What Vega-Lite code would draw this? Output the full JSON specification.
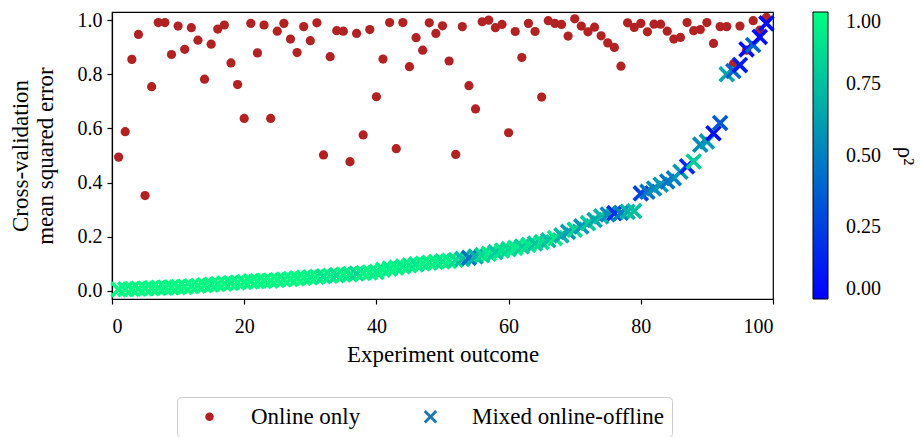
{
  "$schema": "https://vega.github.io/schema/vega-lite/v6.json",
  "width": 661,
  "height": 287,
  "autosize": {"type": "none"},
  "padding": {"left": 112, "top": 12, "right": 147, "bottom": 138},
  "config": {
    "font": "Liberation Serif",
    "view": {"stroke": "black", "strokeWidth": 1.2},
    "axis": {"grid": false, "domainColor": "black", "domainWidth": 1.2, "tickColor": "black", "tickWidth": 1.2, "tickSize": 5, "labelColor": "black", "titleColor": "black", "labelFont": "Liberation Serif", "titleFont": "Liberation Serif", "labelFontSize": 20, "titleFontSize": 23, "titleFontWeight": "normal"},
    "legend": {"labelFont": "Liberation Serif", "titleFont": "Liberation Serif", "labelColor": "black", "titleColor": "black", "titleFontWeight": "normal"}
  },
  "datasets": {
    "online": [
      {"x":1,"mse":0.494,"series":"Online only"},{"x":2,"mse":0.588,"series":"Online only"},{"x":3,"mse":0.855,"series":"Online only"},{"x":4,"mse":0.947,"series":"Online only"},{"x":5,"mse":0.352,"series":"Online only"},
      {"x":6,"mse":0.754,"series":"Online only"},{"x":7,"mse":0.991,"series":"Online only"},{"x":8,"mse":0.991,"series":"Online only"},{"x":9,"mse":0.873,"series":"Online only"},{"x":10,"mse":0.978,"series":"Online only"},
      {"x":11,"mse":0.892,"series":"Online only"},{"x":12,"mse":0.972,"series":"Online only"},{"x":13,"mse":0.926,"series":"Online only"},{"x":14,"mse":0.782,"series":"Online only"},{"x":15,"mse":0.911,"series":"Online only"},
      {"x":16,"mse":0.967,"series":"Online only"},{"x":17,"mse":0.982,"series":"Online only"},{"x":18,"mse":0.842,"series":"Online only"},{"x":19,"mse":0.762,"series":"Online only"},{"x":20,"mse":0.637,"series":"Online only"},
      {"x":21,"mse":0.988,"series":"Online only"},{"x":22,"mse":0.879,"series":"Online only"},{"x":23,"mse":0.982,"series":"Online only"},{"x":24,"mse":0.637,"series":"Online only"},{"x":25,"mse":0.959,"series":"Online only"},
      {"x":26,"mse":0.988,"series":"Online only"},{"x":27,"mse":0.930,"series":"Online only"},{"x":28,"mse":0.880,"series":"Online only"},{"x":29,"mse":0.976,"series":"Online only"},{"x":30,"mse":0.924,"series":"Online only"},
      {"x":31,"mse":0.990,"series":"Online only"},{"x":32,"mse":0.502,"series":"Online only"},{"x":33,"mse":0.865,"series":"Online only"},{"x":34,"mse":0.961,"series":"Online only"},{"x":35,"mse":0.959,"series":"Online only"},
      {"x":36,"mse":0.477,"series":"Online only"},{"x":37,"mse":0.951,"series":"Online only"},{"x":38,"mse":0.576,"series":"Online only"},{"x":39,"mse":0.965,"series":"Online only"},{"x":40,"mse":0.717,"series":"Online only"},
      {"x":41,"mse":0.856,"series":"Online only"},{"x":42,"mse":0.991,"series":"Online only"},{"x":43,"mse":0.525,"series":"Online only"},{"x":44,"mse":0.991,"series":"Online only"},{"x":45,"mse":0.828,"series":"Online only"},
      {"x":46,"mse":0.935,"series":"Online only"},{"x":47,"mse":0.889,"series":"Online only"},{"x":48,"mse":0.990,"series":"Online only"},{"x":49,"mse":0.951,"series":"Online only"},{"x":50,"mse":0.979,"series":"Online only"},
      {"x":51,"mse":0.849,"series":"Online only"},{"x":52,"mse":0.504,"series":"Online only"},{"x":53,"mse":0.976,"series":"Online only"},{"x":54,"mse":0.758,"series":"Online only"},{"x":55,"mse":0.672,"series":"Online only"},
      {"x":56,"mse":0.994,"series":"Online only"},{"x":57,"mse":1.000,"series":"Online only"},{"x":58,"mse":0.972,"series":"Online only"},{"x":59,"mse":0.984,"series":"Online only"},{"x":60,"mse":0.584,"series":"Online only"},
      {"x":61,"mse":0.958,"series":"Online only"},{"x":62,"mse":0.862,"series":"Online only"},{"x":63,"mse":0.988,"series":"Online only"},{"x":64,"mse":0.958,"series":"Online only"},{"x":65,"mse":0.716,"series":"Online only"},
      {"x":66,"mse":0.998,"series":"Online only"},{"x":67,"mse":0.988,"series":"Online only"},{"x":68,"mse":0.984,"series":"Online only"},{"x":69,"mse":0.941,"series":"Online only"},{"x":70,"mse":1.005,"series":"Online only"},
      {"x":71,"mse":0.978,"series":"Online only"},{"x":72,"mse":0.957,"series":"Online only"},{"x":73,"mse":0.974,"series":"Online only"},{"x":74,"mse":0.942,"series":"Online only"},{"x":75,"mse":0.916,"series":"Online only"},
      {"x":76,"mse":0.899,"series":"Online only"},{"x":77,"mse":0.830,"series":"Online only"},{"x":78,"mse":0.990,"series":"Online only"},{"x":79,"mse":0.973,"series":"Online only"},{"x":80,"mse":0.988,"series":"Online only"},
      {"x":81,"mse":0.957,"series":"Online only"},{"x":82,"mse":0.985,"series":"Online only"},{"x":83,"mse":0.985,"series":"Online only"},{"x":84,"mse":0.959,"series":"Online only"},{"x":85,"mse":0.930,"series":"Online only"},
      {"x":86,"mse":0.936,"series":"Online only"},{"x":87,"mse":0.991,"series":"Online only"},{"x":88,"mse":0.961,"series":"Online only"},{"x":89,"mse":0.965,"series":"Online only"},{"x":90,"mse":0.991,"series":"Online only"},
      {"x":91,"mse":0.914,"series":"Online only"},{"x":92,"mse":0.976,"series":"Online only"},{"x":93,"mse":0.976,"series":"Online only"},{"x":94,"mse":0.838,"series":"Online only"},{"x":95,"mse":0.978,"series":"Online only"},
      {"x":96,"mse":0.889,"series":"Online only"},{"x":97,"mse":0.998,"series":"Online only"},{"x":98,"mse":0.963,"series":"Online only"},{"x":99,"mse":1.010,"series":"Online only"}
    ],
    "mixed": [
      {"x":1,"mse":0.005,"rho2":1.0,"series":"Mixed online-offline"},{"x":2,"mse":0.006,"rho2":0.98,"series":"Mixed online-offline"},{"x":3,"mse":0.007,"rho2":0.99,"series":"Mixed online-offline"},{"x":4,"mse":0.008,"rho2":0.97,"series":"Mixed online-offline"},{"x":5,"mse":0.009,"rho2":0.99,"series":"Mixed online-offline"},
      {"x":6,"mse":0.010,"rho2":0.98,"series":"Mixed online-offline"},{"x":7,"mse":0.011,"rho2":0.99,"series":"Mixed online-offline"},{"x":8,"mse":0.012,"rho2":0.97,"series":"Mixed online-offline"},{"x":9,"mse":0.013,"rho2":0.99,"series":"Mixed online-offline"},{"x":10,"mse":0.014,"rho2":0.98,"series":"Mixed online-offline"},
      {"x":11,"mse":0.015,"rho2":0.99,"series":"Mixed online-offline"},{"x":12,"mse":0.017,"rho2":0.97,"series":"Mixed online-offline"},{"x":13,"mse":0.019,"rho2":0.98,"series":"Mixed online-offline"},{"x":14,"mse":0.021,"rho2":0.99,"series":"Mixed online-offline"},{"x":15,"mse":0.023,"rho2":0.97,"series":"Mixed online-offline"},
      {"x":16,"mse":0.025,"rho2":0.98,"series":"Mixed online-offline"},{"x":17,"mse":0.027,"rho2":0.99,"series":"Mixed online-offline"},{"x":18,"mse":0.029,"rho2":0.96,"series":"Mixed online-offline"},{"x":19,"mse":0.031,"rho2":0.98,"series":"Mixed online-offline"},{"x":20,"mse":0.033,"rho2":0.97,"series":"Mixed online-offline"},
      {"x":21,"mse":0.035,"rho2":0.99,"series":"Mixed online-offline"},{"x":22,"mse":0.036,"rho2":0.98,"series":"Mixed online-offline"},{"x":23,"mse":0.037,"rho2":0.97,"series":"Mixed online-offline"},{"x":24,"mse":0.038,"rho2":0.99,"series":"Mixed online-offline"},{"x":25,"mse":0.040,"rho2":0.98,"series":"Mixed online-offline"},
      {"x":26,"mse":0.042,"rho2":0.96,"series":"Mixed online-offline"},{"x":27,"mse":0.044,"rho2":0.98,"series":"Mixed online-offline"},{"x":28,"mse":0.046,"rho2":0.97,"series":"Mixed online-offline"},{"x":29,"mse":0.048,"rho2":0.99,"series":"Mixed online-offline"},{"x":30,"mse":0.050,"rho2":0.95,"series":"Mixed online-offline"},
      {"x":31,"mse":0.052,"rho2":0.97,"series":"Mixed online-offline"},{"x":32,"mse":0.054,"rho2":0.90,"series":"Mixed online-offline"},{"x":33,"mse":0.056,"rho2":0.94,"series":"Mixed online-offline"},{"x":34,"mse":0.058,"rho2":0.88,"series":"Mixed online-offline"},{"x":35,"mse":0.060,"rho2":0.96,"series":"Mixed online-offline"},
      {"x":36,"mse":0.062,"rho2":0.92,"series":"Mixed online-offline"},{"x":37,"mse":0.064,"rho2":0.86,"series":"Mixed online-offline"},{"x":38,"mse":0.066,"rho2":0.95,"series":"Mixed online-offline"},{"x":39,"mse":0.068,"rho2":0.97,"series":"Mixed online-offline"},{"x":40,"mse":0.070,"rho2":0.93,"series":"Mixed online-offline"},
      {"x":41,"mse":0.078,"rho2":0.96,"series":"Mixed online-offline"},{"x":42,"mse":0.082,"rho2":0.94,"series":"Mixed online-offline"},{"x":43,"mse":0.086,"rho2":0.97,"series":"Mixed online-offline"},{"x":44,"mse":0.090,"rho2":0.92,"series":"Mixed online-offline"},{"x":45,"mse":0.094,"rho2":0.95,"series":"Mixed online-offline"},
      {"x":46,"mse":0.098,"rho2":0.90,"series":"Mixed online-offline"},{"x":47,"mse":0.101,"rho2":0.96,"series":"Mixed online-offline"},{"x":48,"mse":0.104,"rho2":0.93,"series":"Mixed online-offline"},{"x":49,"mse":0.107,"rho2":0.95,"series":"Mixed online-offline"},{"x":50,"mse":0.109,"rho2":0.91,"series":"Mixed online-offline"},
      {"x":51,"mse":0.111,"rho2":0.94,"series":"Mixed online-offline"},{"x":52,"mse":0.114,"rho2":0.88,"series":"Mixed online-offline"},{"x":53,"mse":0.118,"rho2":0.75,"series":"Mixed online-offline"},{"x":54,"mse":0.122,"rho2":0.45,"series":"Mixed online-offline"},{"x":55,"mse":0.127,"rho2":0.70,"series":"Mixed online-offline"},
      {"x":56,"mse":0.132,"rho2":0.85,"series":"Mixed online-offline"},{"x":57,"mse":0.137,"rho2":0.92,"series":"Mixed online-offline"},{"x":58,"mse":0.143,"rho2":0.80,"series":"Mixed online-offline"},{"x":59,"mse":0.149,"rho2":0.90,"series":"Mixed online-offline"},{"x":60,"mse":0.154,"rho2":0.86,"series":"Mixed online-offline"},
      {"x":61,"mse":0.159,"rho2":0.93,"series":"Mixed online-offline"},{"x":62,"mse":0.164,"rho2":0.82,"series":"Mixed online-offline"},{"x":63,"mse":0.170,"rho2":0.90,"series":"Mixed online-offline"},{"x":64,"mse":0.175,"rho2":0.78,"series":"Mixed online-offline"},{"x":65,"mse":0.180,"rho2":0.88,"series":"Mixed online-offline"},
      {"x":66,"mse":0.187,"rho2":0.75,"series":"Mixed online-offline"},{"x":67,"mse":0.195,"rho2":0.92,"series":"Mixed online-offline"},{"x":68,"mse":0.205,"rho2":0.70,"series":"Mixed online-offline"},{"x":69,"mse":0.218,"rho2":0.62,"series":"Mixed online-offline"},{"x":70,"mse":0.226,"rho2":0.85,"series":"Mixed online-offline"},
      {"x":71,"mse":0.238,"rho2":0.58,"series":"Mixed online-offline"},{"x":72,"mse":0.250,"rho2":0.80,"series":"Mixed online-offline"},{"x":73,"mse":0.262,"rho2":0.66,"series":"Mixed online-offline"},{"x":74,"mse":0.275,"rho2":0.72,"series":"Mixed online-offline"},{"x":75,"mse":0.282,"rho2":0.55,"series":"Mixed online-offline"},
      {"x":76,"mse":0.287,"rho2":0.20,"series":"Mixed online-offline"},{"x":77,"mse":0.288,"rho2":0.50,"series":"Mixed online-offline"},{"x":78,"mse":0.292,"rho2":0.70,"series":"Mixed online-offline"},{"x":79,"mse":0.295,"rho2":0.75,"series":"Mixed online-offline"},{"x":80,"mse":0.360,"rho2":0.25,"series":"Mixed online-offline"},
      {"x":81,"mse":0.366,"rho2":0.45,"series":"Mixed online-offline"},{"x":82,"mse":0.378,"rho2":0.55,"series":"Mixed online-offline"},{"x":83,"mse":0.392,"rho2":0.60,"series":"Mixed online-offline"},{"x":84,"mse":0.404,"rho2":0.45,"series":"Mixed online-offline"},{"x":85,"mse":0.416,"rho2":0.50,"series":"Mixed online-offline"},
      {"x":86,"mse":0.440,"rho2":0.60,"series":"Mixed online-offline"},{"x":87,"mse":0.460,"rho2":0.15,"series":"Mixed online-offline"},{"x":88,"mse":0.478,"rho2":0.80,"series":"Mixed online-offline"},{"x":89,"mse":0.540,"rho2":0.55,"series":"Mixed online-offline"},{"x":90,"mse":0.552,"rho2":0.60,"series":"Mixed online-offline"},
      {"x":91,"mse":0.582,"rho2":0.05,"series":"Mixed online-offline"},{"x":92,"mse":0.620,"rho2":0.35,"series":"Mixed online-offline"},{"x":93,"mse":0.800,"rho2":0.65,"series":"Mixed online-offline"},{"x":94,"mse":0.812,"rho2":0.40,"series":"Mixed online-offline"},{"x":95,"mse":0.834,"rho2":0.10,"series":"Mixed online-offline"},
      {"x":96,"mse":0.892,"rho2":0.05,"series":"Mixed online-offline"},{"x":97,"mse":0.908,"rho2":0.40,"series":"Mixed online-offline"},{"x":98,"mse":0.938,"rho2":0.05,"series":"Mixed online-offline"},{"x":99,"mse":0.988,"rho2":0.05,"series":"Mixed online-offline"}
    ]
  },
  "layer": [
    {
      "data": {"name": "online"},
      "mark": {"type": "point", "filled": true, "size": 85, "opacity": 1},
      "encoding": {
        "x": {"field": "x", "type": "quantitative", "scale": {"domain": [0, 100], "nice": false, "zero": false}, "axis": {"values": [0, 20, 40, 60, 80, 100], "title": "Experiment outcome", "labelPadding": 12, "titlePadding": 7}},
        "y": {"field": "mse", "type": "quantitative", "scale": {"domain": [-0.03, 1.03], "nice": false, "zero": false}, "axis": {"values": [0, 0.2, 0.4, 0.6, 0.8, 1.0], "format": ".1f", "title": ["Cross-validation", "mean squared error"], "titlePadding": 20, "labelPadding": 5, "titleLineHeight": 25}},
        "fill": {"field": "series", "type": "nominal", "scale": {"domain": ["Online only", "Mixed online-offline"], "range": ["#b22222", "#1f77b4"]},
          "legend": {"orient": "none", "legendX": 65, "legendY": 385, "direction": "horizontal", "columns": 2, "title": null, "labelFontSize": 23, "labelLimit": 400, "symbolSize": 72, "symbolOpacity": 1, "symbolStrokeWidth": 0, "padding": 8, "strokeColor": "#cccccc", "cornerRadius": 4, "fillColor": "white", "symbolOffset": 13, "labelOffset": 30, "columnPadding": 45}},
        "shape": {"field": "series", "type": "nominal", "scale": {"domain": ["Online only", "Mixed online-offline"], "range": ["circle", "M-1.6,-1.1L-1.1,-1.6L0,-0.5L1.1,-1.6L1.6,-1.1L0.5,0L1.6,1.1L1.1,1.6L0,0.5L-1.1,1.6L-1.6,1.1L-0.5,0Z"]},
          "legend": {"orient": "none", "legendX": 65, "legendY": 385, "direction": "horizontal", "columns": 2, "title": null, "labelFontSize": 23, "labelLimit": 400, "symbolSize": 72, "symbolOpacity": 1, "symbolStrokeWidth": 0, "padding": 8, "strokeColor": "#cccccc", "cornerRadius": 4, "fillColor": "white", "symbolOffset": 13, "labelOffset": 30, "columnPadding": 45}}
      }
    },
    {
      "data": {"name": "mixed"},
      "mark": {"type": "point", "filled": true, "size": 108, "opacity": 1},
      "encoding": {
        "x": {"field": "x", "type": "quantitative"},
        "y": {"field": "mse", "type": "quantitative"},
        "shape": {"field": "series", "type": "nominal"},
        "color": {"field": "rho2", "type": "quantitative", "scale": {"domain": [0, 1], "range": ["#0000ff", "#00ff80"], "interpolate": "rgb"},
          "legend": {"orient": "none", "legendX": 701, "legendY": 0, "direction": "vertical", "gradientLength": 287, "gradientThickness": 15, "gradientStrokeColor": "black", "gradientStrokeWidth": 1, "values": [0, 0.25, 0.5, 0.75, 1], "format": ".2f", "labelFontSize": 20, "labelOffset": 18, "labelOverlap": false, "title": "ρ²", "titleOrient": "right", "titleAngle": 270, "titleFontSize": 23, "titleAnchor": "middle", "titlePadding": 12,
            "encode": {"labels": {"baseline": {"value": "middle"}}}}}
      }
    }
  ]
}
